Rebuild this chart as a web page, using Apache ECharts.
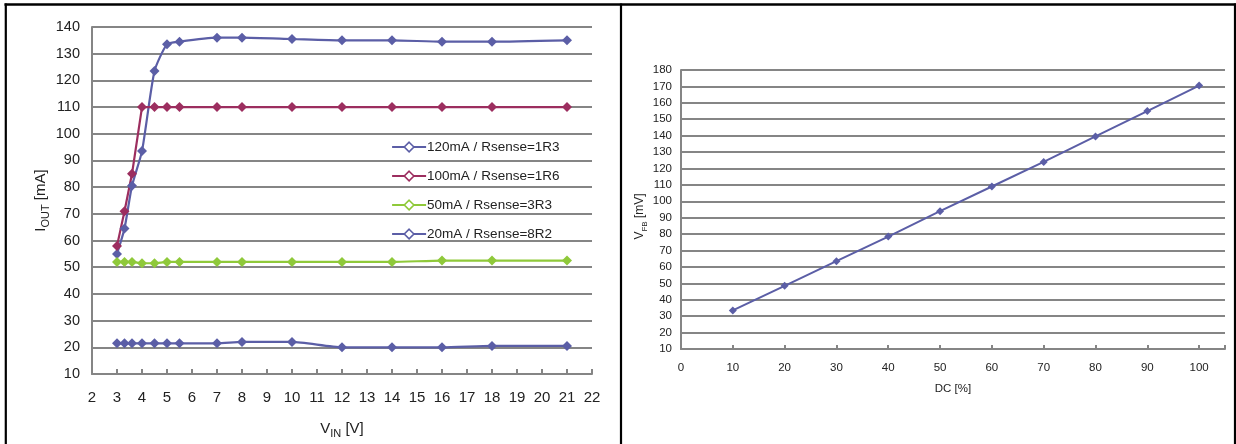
<!DOCTYPE html>
<html>
<head>
<meta charset="utf-8">
<script src="https://cdn.jsdelivr.net/npm/echarts@6/dist/echarts.min.js"></script>
<style>
html,body{margin:0;padding:0;background:#fff;}
#c{width:1236px;height:444px;}
</style>
</head>
<body>
<div id="c"></div>
<script>
// ---- Left chart data: I_OUT vs V_IN ----
const vinX = [3, 3.3, 3.6, 4, 4.5, 5, 5.5, 7, 8, 10, 12, 14, 16, 18, 21];
const s120 = [55, 64.5, 80.5, 93.5, 123.5, 133.5, 134.5, 136, 136, 135.5, 135, 135, 134.5, 134.5, 135];
const s100 = [58, 71, 85, 110, 110, 110, 110, 110, 110, 110, 110, 110, 110, 110, 110];
const s50  = [52, 52, 52, 51.5, 51.5, 52, 52, 52, 52, 52, 52, 52, 52.5, 52.5, 52.5];
const s20  = [21.5, 21.5, 21.5, 21.5, 21.5, 21.5, 21.5, 21.5, 22, 22, 20, 20, 20, 20.5, 20.5];
const seriesNames = ['120mA / Rsense=1R3', '100mA / Rsense=1R6', '50mA / Rsense=3R3', '20mA / Rsense=8R2'];

// ---- Right chart data: V_FB vs DC ----
const dcX = [10, 20, 30, 40, 50, 60, 70, 80, 90, 100];
const vfb = [33.5, 48.5, 63.5, 78.5, 94, 109, 124, 139.5, 155, 170.5];

const FONT = 'Liberation Sans, Arial, Helvetica, sans-serif';
const GRID_C = '#858585';
const colors = ['#5b5ea6', '#9c2e5f', '#8fc93a', '#5b5ea6'];
const smoothing = [0.2, 0, 0.2, 0.2];

function pairs(xs, ys) { return xs.map((x, i) => [x, ys[i]]); }

const chart = echarts.init(document.getElementById('c'));

function subRich(size, subSize) {
  return {
    m: { fontSize: size, fontFamily: FONT, color: '#222', lineHeight: size + 4, verticalAlign: 'bottom' },
    s: { fontSize: subSize, fontFamily: FONT, color: '#222', lineHeight: subSize, verticalAlign: 'bottom', padding: [0, 0, -3, 0] }
  };
}

const leftSeries = [s120, s100, s50, s20].map((arr, i) => ({
  name: seriesNames[i],
  type: 'line',
  xAxisIndex: 0,
  yAxisIndex: 0,
  data: pairs(vinX, arr),
  smooth: smoothing[i],
  symbol: 'diamond',
  symbolSize: 10,
  showSymbol: true,
  lineStyle: { color: colors[i], width: 2.2 },
  itemStyle: { color: colors[i] },
  z: 3
}));

const option = {
  animation: false,
  backgroundColor: '#fff',
  legend: {
    data: seriesNames.map((n, i) => ({
      name: n,
      itemStyle: { color: '#fff', borderColor: colors[i], borderWidth: 1.6 }
    })),
    orient: 'vertical',
    left: 386,
    top: 135,
    itemWidth: 34,
    itemHeight: 12,
    itemGap: 15,
    lineStyle: { width: 2.2 },
    textStyle: { fontSize: 13.5, fontFamily: FONT, color: '#222', padding: [0, 0, 0, -4] }
  },
  grid: [
    { left: 92, top: 27, width: 500, height: 350 },
    { left: 681, top: 70, width: 544, height: 279 }
  ],
  xAxis: [
    {
      gridIndex: 0, type: 'value', min: 2, max: 22, interval: 1,
      name: '{m|V}{s|IN}{m| [V]}',
      nameLocation: 'middle', nameGap: 43,
      nameTextStyle: { rich: subRich(15, 11) },
      axisLine: { lineStyle: { color: GRID_C, width: 2 } },
      axisTick: { show: true, inside: true, length: 5, lineStyle: { color: GRID_C, width: 2 } },
      axisLabel: { fontSize: 15, fontFamily: FONT, color: '#222', margin: 16 },
      splitLine: { show: false }
    },
    {
      gridIndex: 1, type: 'value', min: 0, max: 105, interval: 10,
      name: 'DC [%]',
      nameLocation: 'middle', nameGap: 34,
      nameTextStyle: { fontSize: 11.5, fontFamily: FONT, color: '#222' },
      axisLine: { lineStyle: { color: GRID_C, width: 2 } },
      axisTick: { show: true, inside: true, length: 4, lineStyle: { color: GRID_C, width: 2 } },
      axisLabel: {
        fontSize: 11.5, fontFamily: FONT, color: '#222', margin: 13,
        formatter: v => (v % 10 === 0 ? String(v) : '')
      },
      splitLine: { show: false }
    }
  ],
  yAxis: [
    {
      gridIndex: 0, type: 'value', min: 10, max: 140, interval: 10,
      name: '{m|I}{s|OUT}{m| [mA]}',
      nameLocation: 'middle', nameGap: 44, nameRotate: 90,
      nameTextStyle: { rich: subRich(15, 11) },
      axisLine: { show: true, lineStyle: { color: GRID_C, width: 2 } },
      axisTick: { show: false },
      axisLabel: { fontSize: 14.5, fontFamily: FONT, color: '#222', margin: 12 },
      splitLine: { show: true, lineStyle: { color: GRID_C, width: 2 } }
    },
    {
      gridIndex: 1, type: 'value', min: 10, max: 180, interval: 10,
      name: '{m|V}{s|FB}{m| [mV]}',
      nameLocation: 'middle', nameGap: 33, nameRotate: 90,
      nameTextStyle: { rich: subRich(12, 8), padding: [0, 0, 0, -14] },
      axisLine: { show: true, lineStyle: { color: GRID_C, width: 2 } },
      axisTick: { show: false },
      axisLabel: { fontSize: 11.5, fontFamily: FONT, color: '#222', margin: 9 },
      splitLine: { show: true, lineStyle: { color: GRID_C, width: 2 } }
    }
  ],
  series: leftSeries.concat([{
    name: 'VFB',
    type: 'line',
    xAxisIndex: 1,
    yAxisIndex: 1,
    data: pairs(dcX, vfb),
    symbol: 'diamond',
    symbolSize: 8,
    lineStyle: { color: '#5b5ea6', width: 2 },
    itemStyle: { color: '#5b5ea6' },
    z: 3
  }]),
  graphic: [
    { type: 'line', shape: { x1: 4.5, y1: 4.5, x2: 1236, y2: 4.5 }, style: { stroke: '#000', lineWidth: 2.5 }, silent: true },
    { type: 'line', shape: { x1: 5.8, y1: 3.5, x2: 5.8, y2: 444 }, style: { stroke: '#000', lineWidth: 2.2 }, silent: true },
    { type: 'line', shape: { x1: 621, y1: 3.5, x2: 621, y2: 444 }, style: { stroke: '#000', lineWidth: 2.2 }, silent: true },
    { type: 'line', shape: { x1: 1235, y1: 3.5, x2: 1235, y2: 444 }, style: { stroke: '#000', lineWidth: 2.2 }, silent: true }
  ]
};

chart.setOption(option);
</script>
</body>
</html>
